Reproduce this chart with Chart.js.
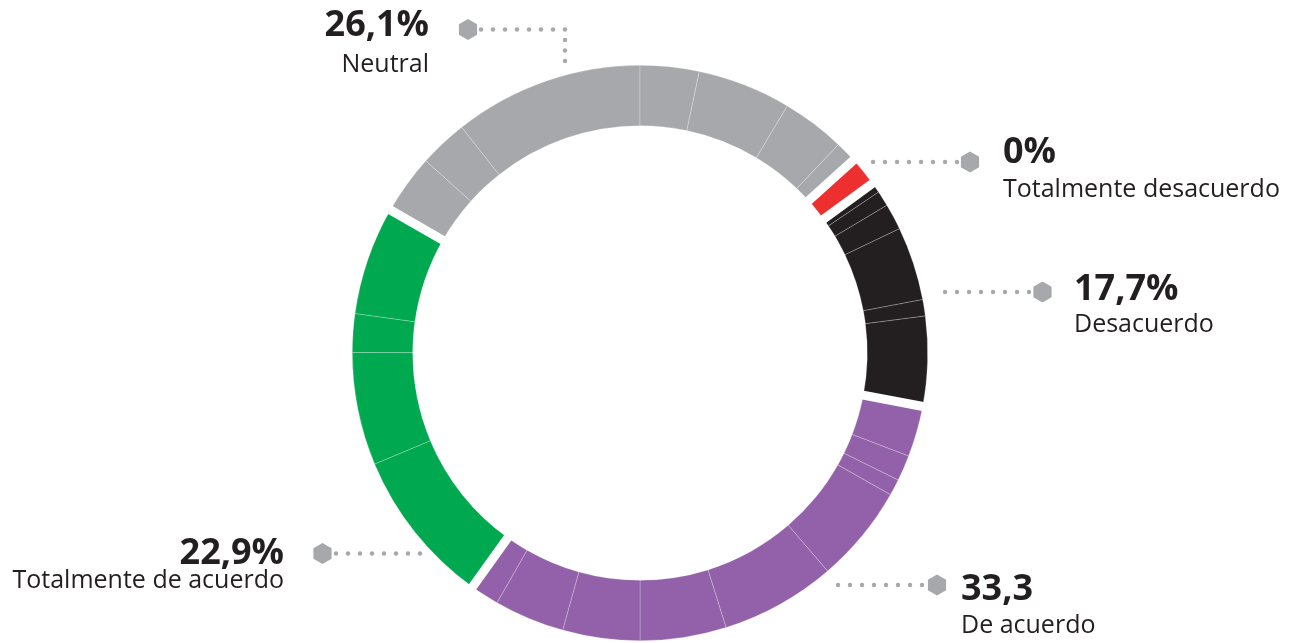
<!DOCTYPE html>
<html>
<head>
<meta charset="utf-8">
<script src="https://cdn.jsdelivr.net/npm/chart.js@4.4.1/dist/chart.umd.min.js"></script>
<style>
  html, body { margin: 0; padding: 0; background: #fff; }
  #wrap { position: relative; width: 1297px; height: 643px; overflow: hidden; font-family: "Open Sans", sans-serif; color: #231f20; }
  #chart { position: absolute; left: 0; top: 0; }
  .lbl { position: absolute; white-space: nowrap; line-height: 1; }
  .v { font-weight: 700; font-size: 36px; }
  .c { font-size: 25px; }
</style>
</head>
<body>
<div id="wrap">
  <canvas id="chart" width="1297" height="643"></canvas>
</div>
<script>
// categories, clockwise from the red slice
const categories = ['Totalmente desacuerdo', 'Desacuerdo', 'De acuerdo', 'Totalmente de acuerdo', 'Neutral'];
const valueLabels = ['0%', '17,7%', '33,3', '22,9%', '26,1%'];
const colors = ['#ed2f2f', '#231f20', '#9261a9', '#00a84f', '#a7a8ab'];

// each ring segment is built from smaller parts (thin lines inside a segment)
const totDesacuerdoParts = [6.0];
const desacuerdoParts = [2.1, 3.1, 5.3, 14.9, 3.3, 18.1];
const deAcuerdoParts = [10.3, 5.2, 3.3, 19.8, 23.3, 17.4, 15.6, 14.2, 5.8];
const totDeAcuerdoParts = [31.7, 22.8, 7.8, 21.9];
const neutralParts = [12.1, 9.8, 38.3, 11.9, 18.9, 12.8, 4.3];

const groups = [totDesacuerdoParts, desacuerdoParts, deAcuerdoParts, totDeAcuerdoParts, neutralParts];

const data = [];
const labels = [];
const bg = [];
const groupStarts = [];
groups.forEach((g, gi) => {
    groupStarts.push(data.length);
    g.forEach(v => {
        data.push(v);
        labels.push(categories[gi]);
        bg.push(colors[gi]);
    });
});

const GAP = 9;

// white separators between the answer groups
const gapLines = {
    id: 'gapLines',
    afterDatasetsDraw(chart) {
        const arcs = chart.getDatasetMeta(0).data;
        const ctx = chart.ctx;
        ctx.save();
        ctx.strokeStyle = '#fff';
        ctx.lineWidth = GAP;
        groupStarts.forEach(i => {
            const a = arcs[i];
            const ang = a.startAngle;
            const r0 = a.innerRadius - 3, r1 = a.outerRadius + 3;
            ctx.beginPath();
            ctx.moveTo(a.x + Math.cos(ang) * r0, a.y + Math.sin(ang) * r0);
            ctx.lineTo(a.x + Math.cos(ang) * r1, a.y + Math.sin(ang) * r1);
            ctx.stroke();
        });
        ctx.restore();
    }
};

// dotted leaders with hexagon ends
const leaders = [
    { hex: [468, 29.5], dots: [[481, 29.5], [565, 29.5]], down: [565, 29.5, 61] },
    { hex: [970, 162], dots: [[873, 162], [957, 162]] },
    { hex: [1042.5, 292], dots: [[945, 292], [1029, 292]] },
    { hex: [937, 585], dots: [[838, 585], [922, 585]] },
    { hex: [322.5, 553.5], dots: [[336, 553.5], [420, 553.5]] }
];

const leaderDraw = {
    id: 'leaderDraw',
    afterDraw(chart) {
        const ctx = chart.ctx;
        ctx.save();
        ctx.fillStyle = '#a7a8ab';
        leaders.forEach(l => {
            const [x0, y0] = l.dots[0];
            const [x1] = l.dots[1];
            const n = 8;
            for (let k = 0; k < n; k++) {
                const x = x0 + (x1 - x0) * k / (n - 1);
                ctx.beginPath();
                ctx.arc(x, y0, 2.2, 0, Math.PI * 2);
                ctx.fill();
            }
            if (l.down) {
                const [dx, dy0, dy1] = l.down;
                for (let k = 1; k <= 3; k++) {
                    const y = dy0 + (dy1 - dy0) * k / 3;
                    ctx.beginPath();
                    ctx.arc(dx, y, 2.2, 0, Math.PI * 2);
                    ctx.fill();
                }
            }
            const [hx, hy] = l.hex;
            const r = 10.5;
            ctx.beginPath();
            for (let k = 0; k < 6; k++) {
                const a = -Math.PI / 2 + k * Math.PI / 3;
                const px = hx + Math.cos(a) * r, py = hy + Math.sin(a) * r;
                if (k === 0) ctx.moveTo(px, py); else ctx.lineTo(px, py);
            }
            ctx.closePath();
            ctx.fill();
        });
        ctx.restore();
    }
};

new Chart(document.getElementById('chart'), {
    type: 'doughnut',
    data: {
        labels: labels,
        datasets: [{
            data: data,
            backgroundColor: bg,
            borderColor: 'rgba(255,255,255,0.4)',
            borderWidth: 0.6
        }]
    },
    options: {
        responsive: false,
        animation: false,
        rotation: 47.9,
        cutout: '79%',
        layout: { padding: { left: 352, right: 369, top: 65, bottom: 2 } },
        plugins: { legend: { display: false }, tooltip: { enabled: false } }
    },
    plugins: [gapLines, leaderDraw]
});

// text labels: [value index, side, x, valueTop, captionTop]
const labelPos = [
    [0, 'left', 1003, 132, 175],
    [1, 'left', 1074, 269, 310],
    [2, 'left', 961, 569, 611],
    [3, 'right', 284, 533, 566],
    [4, 'right', 429, 5, 50]
];
const wrap = document.getElementById('wrap');
labelPos.forEach(([i, side, x, vt, ct]) => {
    [[valueLabels[i], 'v', vt], [categories[i], 'c', ct]].forEach(([txt, cls, top]) => {
        const d = document.createElement('div');
        d.className = 'lbl ' + cls;
        d.textContent = txt;
        d.style.top = top + 'px';
        if (side === 'left') d.style.left = x + 'px';
        else { d.style.right = (1297 - x) + 'px'; d.style.textAlign = 'right'; }
        wrap.appendChild(d);
    });
});
</script>
</body>
</html>
